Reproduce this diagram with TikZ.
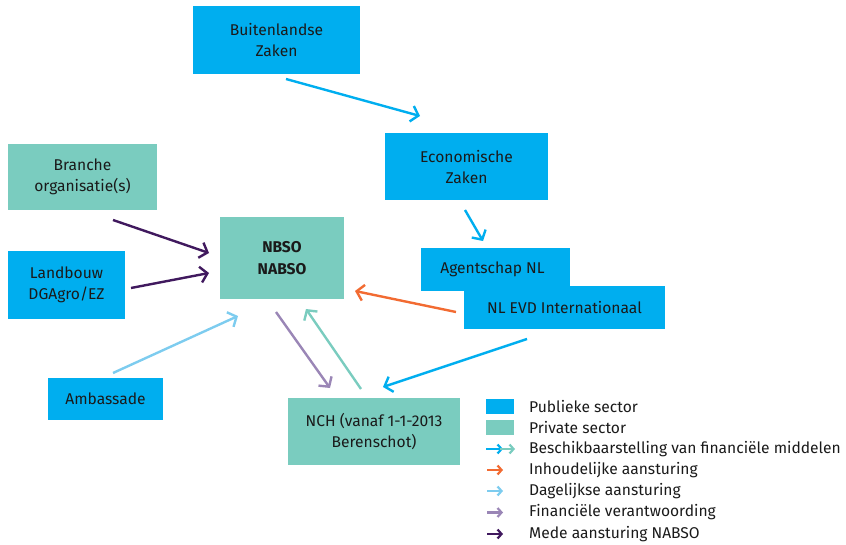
\documentclass[tikz,border=0pt]{standalone}
\usepackage{fontspec}
\setmainfont{Fira Sans}
\usetikzlibrary{arrows.meta}
\definecolor{pubblue}{HTML}{00AEEF}
\definecolor{privteal}{HTML}{7ACCBF}
\definecolor{darkpurple}{HTML}{40195E}
\definecolor{orangec}{HTML}{F26B32}
\definecolor{lightblue}{HTML}{7DCCEF}
\definecolor{lavender}{HTML}{9A86B6}
\definecolor{txt}{HTML}{1A1A1A}
\tikzset{
  box/.style={draw=none, inner sep=0pt, align=center, text=txt, font=\fontsize{15.6}{21.5}\selectfont},
  pub/.style={box, fill=pubblue},
  priv/.style={box, fill=privteal},
  conn/.style={line width=2.4pt, -{Straight Barb[length=7pt,width=16pt,line width=2.4pt]}},
  legtext/.style={anchor=west, inner sep=0pt, text=txt, font=\fontsize{15.6}{18}\selectfont},
  legarrow/.style={line width=2.2pt, -{Straight Barb[length=4pt,width=9pt,line width=2.2pt]}}
}
\begin{document}
\begin{tikzpicture}[x=1pt,y=-1pt]
\useasboundingbox (0,0) rectangle (846,545);
% boxes
\node[pub, minimum width=167pt, minimum height=68pt] (bz) at (276.5,40) {Buitenlandse\\Zaken};
\node[pub, minimum width=163pt, minimum height=67pt] (ez) at (466.5,167) {Economische\\Zaken};
\node[priv, minimum width=149pt, minimum height=66pt] (br) at (82.5,177) {Branche\\organisatie(s)};
\node[priv, minimum width=124pt, minimum height=82pt] (nb) at (282,258) {\bfseries NBSO\\\bfseries NABSO};
\node[pub, minimum width=117pt, minimum height=68pt] (lb) at (66.5,285) {Landbouw\\DGAgro/EZ};
\node[pub, minimum width=115pt, minimum height=42pt] (am) at (105.5,399) {Ambassade};
\node[pub, minimum width=149pt, minimum height=43pt] (ag) at (495.5,269.5) {\hspace*{-6pt}Agentschap NL};
\node[pub, minimum width=201pt, minimum height=43pt] (ev) at (564.5,307.5) {NL EVD Internationaal};
\node[priv, minimum width=172pt, minimum height=67pt] (nch) at (374,431.5) {NCH (vanaf 1-1-2013\\Berenschot)};
% endpoints
\coordinate (c1s) at (286,79);   \coordinate (c1e) at (420,116);
\coordinate (c2s) at (465,210);  \coordinate (c2e) at (483,241);
\coordinate (c3s) at (113,220);  \coordinate (c3e) at (209,253);
\coordinate (c4s) at (131,288);  \coordinate (c4e) at (209,273);
\coordinate (c5s) at (113,373);  \coordinate (c5e) at (238,316);
\coordinate (c6s) at (276,312);  \coordinate (c6e) at (330,388);
\coordinate (c7s) at (361,389);  \coordinate (c7e) at (306,309);
\coordinate (c8s) at (456,312);  \coordinate (c8e) at (355,291);
\coordinate (c9s) at (527,339);  \coordinate (c9e) at (383,387);
% connectors
\draw[conn, pubblue] (c1s) -- (c1e);
\draw[conn, pubblue] (c2s) -- (c2e);
\draw[conn, darkpurple] (c3s) -- (c3e);
\draw[conn, darkpurple] (c4s) -- (c4e);
\draw[conn, lightblue] (c5s) -- (c5e);
\draw[conn, lavender] (c6s) -- (c6e);
\draw[conn, privteal] (c7s) -- (c7e);
\draw[conn, orangec] (c8s) -- (c8e);
\draw[conn, pubblue] (c9s) -- (c9e);
% legend
\fill[pubblue] (486,399) rectangle (514,414);
\fill[privteal] (486,420) rectangle (514,435);
\node[legtext] (l1) at (529,407) {Publieke sector};
\node[legtext] (l2) at (529,427.5) {Private sector};
\coordinate (la1) at (486,449); \coordinate (lb1) at (503,449);
\coordinate (la2) at (500,449); \coordinate (lb2) at (515,449);
\draw[legarrow, pubblue] (la1) -- (lb1);
\draw[legarrow, privteal] (la2) -- (lb2);
\node[legtext] (l3) at (529,449) {Beschikbaarstelling van financiële middelen};
\coordinate (la3) at (487,470); \coordinate (lb3) at (503,470);
\draw[legarrow, orangec] (la3) -- (lb3);
\node[legtext] (l4) at (529,470) {Inhoudelijke aansturing};
\coordinate (la4) at (487,491); \coordinate (lb4) at (503,491);
\draw[legarrow, lightblue] (la4) -- (lb4);
\node[legtext] (l5) at (529,491) {Dagelijkse aansturing};
\coordinate (la5) at (487,512.5); \coordinate (lb5) at (503,512.5);
\draw[legarrow, lavender] (la5) -- (lb5);
\node[legtext] (l6) at (529,512.5) {Financiële verantwoording};
\coordinate (la6) at (487,534); \coordinate (lb6) at (503,534);
\draw[legarrow, darkpurple] (la6) -- (lb6);
\node[legtext] (l7) at (529,534) {Mede aansturing NABSO};
\end{tikzpicture}
\end{document}
